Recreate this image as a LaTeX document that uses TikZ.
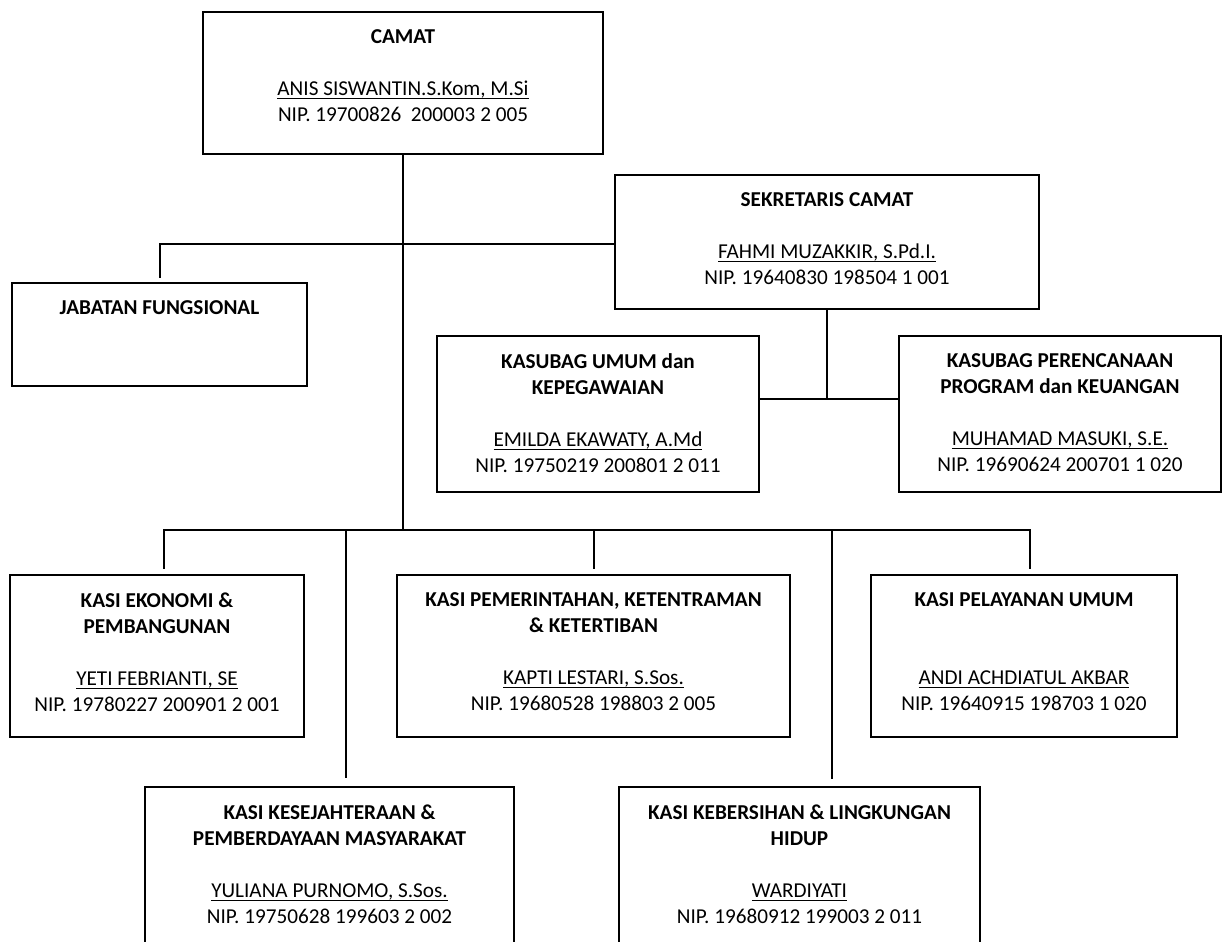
\documentclass[tikz,border=0pt]{standalone}
\usepackage{fontspec}
\setmainfont{Carlito}
\newcommand\orgfont{\fontsize{10.6pt}{13pt}\selectfont}
\newcommand\uln[1]{\setbox0\hbox{#1}\rlap{\rule[-1.7pt]{\wd0}{0.65pt}}\box0}
\tikzset{
  box/.style={draw, line width=1.1pt, rectangle, inner sep=0pt},
  txt/.style={anchor=north, inner sep=0pt, align=center, yshift=-9.35pt, font=\orgfont},
  conn/.style={line width=1pt},
}
\begin{document}
\begin{tikzpicture}[x=0.5pt,y=-0.5pt]
\useasboundingbox (0,0) rectangle (1227,942);
% boxes
\node[box, minimum width=200pt, minimum height=71pt] (camat) at (403,83) {};
\node[box, minimum width=212pt, minimum height=67pt] (sek) at (827,242) {};
\node[box, minimum width=147.5pt, minimum height=51.5pt] (jab) at (159.5,334.5) {};
\node[box, minimum width=161pt, minimum height=78pt] (kum) at (598,414) {};
\node[box, minimum width=161pt, minimum height=78pt] (kpr) at (1060,414) {};
\node[box, minimum width=147pt, minimum height=81pt] (eko) at (157,656) {};
\node[box, minimum width=196.5pt, minimum height=81pt] (pem) at (593.5,656) {};
\node[box, minimum width=153pt, minimum height=81pt] (pel) at (1024,656) {};
\node[box, minimum width=184.5pt, minimum height=86.5pt] (kes) at (329.5,873.5) {};
\node[box, minimum width=180.5pt, minimum height=86.5pt] (keb) at (799.5,873.5) {};
% texts
\node[txt] (camat-t) at (camat.north) {\textbf{CAMAT}\\[13pt]\uln{ANIS SISWANTIN.S.Kom, M.Si}\\NIP. 19700826\ \ 200003 2 005};
\node[txt] (sek-t) at (sek.north) {\textbf{SEKRETARIS CAMAT}\\[13pt]\uln{FAHMI MUZAKKIR, S.Pd.I.}\\NIP. 19640830 198504 1 001};
\node[txt] (jab-t) at (jab.north) {\textbf{JABATAN FUNGSIONAL}};
\node[txt] (kum-t) at (kum.north) {\textbf{KASUBAG UMUM dan}\\\textbf{KEPEGAWAIAN}\\[13pt]\uln{EMILDA EKAWATY, A.Md}\\NIP. 19750219 200801 2 011};
\node[txt] (kpr-t) at (kpr.north) {\textbf{KASUBAG PERENCANAAN}\\\textbf{PROGRAM dan KEUANGAN}\\[13pt]\uln{MUHAMAD MASUKI, S.E.}\\NIP. 19690624 200701 1 020};
\node[txt] (eko-t) at (eko.north) {\textbf{KASI EKONOMI \&}\\\textbf{PEMBANGUNAN}\\[13pt]\uln{YETI FEBRIANTI, SE}\\NIP. 19780227 200901 2 001};
\node[txt] (pem-t) at (pem.north) {\textbf{KASI PEMERINTAHAN, KETENTRAMAN}\\\textbf{\& KETERTIBAN}\\[13pt]\uln{KAPTI LESTARI, S.Sos.}\\NIP. 19680528 198803 2 005};
\node[txt] (pel-t) at (pel.north) {\textbf{KASI PELAYANAN UMUM}\\[26pt]\uln{ANDI ACHDIATUL AKBAR}\\NIP. 19640915 198703 1 020};
\node[txt] (kes-t) at (kes.north) {\textbf{KASI KESEJAHTERAAN \&}\\\textbf{PEMBERDAYAAN MASYARAKAT}\\[13pt]\uln{YULIANA PURNOMO, S.Sos.}\\NIP. 19750628 199603 2 002};
\node[txt] (keb-t) at (keb.north) {\textbf{KASI KEBERSIHAN \& LINGKUNGAN}\\\textbf{HIDUP}\\[13pt]\uln{WARDIYATI}\\NIP. 19680912 199003 2 011};
% connectors
\coordinate (bl) at (164,530);
\coordinate (br) at (1030,530);
\coordinate (k1) at (346,530);
\coordinate (k2) at (594,530);
\coordinate (k3) at (832,530);
\coordinate (jl) at (160,244);
\coordinate (sm) at (827,399);
\draw[conn] (camat.south) -- (camat.south |- bl);
\draw[conn] ([yshift=2.5pt]bl |- eko.north) -- (bl) -- (br) -- ([yshift=2.5pt]br |- pel.north);
\draw[conn] (k1) -- ([yshift=4pt]k1 |- kes.north);
\draw[conn] (k2) -- ([yshift=2.5pt]k2 |- pem.north);
\draw[conn] (k3) -- ([yshift=3.5pt]k3 |- keb.north);
\draw[conn] ([yshift=2pt]jl |- jab.north) -- (jl) -- (jl -| sek.west);
\draw[conn] (sek.south) -- (sm);
\draw[conn] (sm -| kum.east) -- (sm -| kpr.west);
\end{tikzpicture}
\end{document}
